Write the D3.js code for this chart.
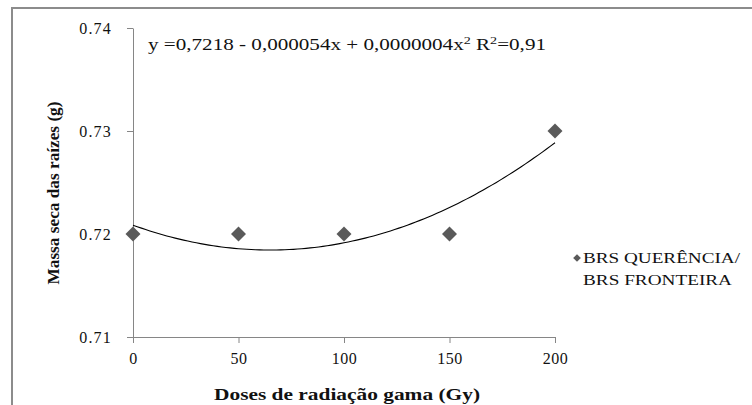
<!DOCTYPE html>
<html>
<head>
<meta charset="utf-8">
<script src="https://cdn.jsdelivr.net/npm/d3@7"></script>
<style>
  html, body { margin: 0; padding: 0; background: #fff; }
  svg { display: block; }
</style>
</head>
<body>
<svg id="chart" width="752" height="405" font-family="'Liberation Serif', 'Times New Roman', serif"></svg>
<script>
// ---- data ----
const doses = [0, 50, 100, 150, 200];
const massa = [0.72, 0.72, 0.72, 0.72, 0.73];
const xTicks = [0, 50, 100, 150, 200];
const yTicks = [0.71, 0.72, 0.73, 0.74];
const seriesName = ["BRS QUERÊNCIA/", "BRS FRONTEIRA"];
const equationText = "y =0,7218 - 0,000054x + 0,0000004x";
const r2Text = "R";
const r2Value = "=0,91";

const FONT = "'Liberation Serif', 'Times New Roman', serif";
const svg = d3.select("#chart");

// outer frame
svg.append("path")
  .attr("d", "M12,405 L12,8 L752,8")
  .attr("fill", "none").attr("stroke", "#8c8c8c").attr("stroke-width", 2);

const x = d3.scaleLinear().domain([0, 200]).range([133, 555]);
const y = d3.scaleLinear().domain([0.71, 0.74]).range([337, 28]);

const axisColor = "#868686";

// y axis
const yAxis = svg.append("g").attr("transform", `translate(${x(0)},0)`)
  .call(d3.axisLeft(y).tickValues(yTicks).tickSize(6).tickSizeOuter(0).tickFormat(d3.format(".2f")));
yAxis.attr("font-family", FONT).attr("font-size", 16);
yAxis.select(".domain").attr("stroke", axisColor);
yAxis.selectAll(".tick line").attr("stroke", axisColor);
yAxis.selectAll(".tick text")
  .attr("font-family", FONT).attr("font-size", 16).attr("fill", "#111").attr("x", -21).attr("dy", "0.32em")
  .attr("letter-spacing", "1.2px");

// x axis
const xAxis = svg.append("g").attr("transform", `translate(0,${y(0.71)})`)
  .call(d3.axisBottom(x).tickValues(xTicks).tickSize(6).tickSizeOuter(0));
xAxis.attr("font-family", FONT).attr("font-size", 16);
xAxis.select(".domain").attr("stroke", axisColor);
xAxis.selectAll(".tick line").attr("stroke", axisColor);
xAxis.selectAll(".tick text")
  .attr("font-family", FONT).attr("font-size", 16).attr("fill", "#111").attr("y", 22).attr("dy", "0.32em")
  .attr("letter-spacing", "0.5px");

// quadratic least squares trend from the data
function quadFit(xs, ys) {
  const n = xs.length;
  let S = [0,0,0,0,0], T = [0,0,0];
  for (let i = 0; i < n; i++) {
    for (let k = 0; k < 5; k++) S[k] += Math.pow(xs[i], k);
    for (let k = 0; k < 3; k++) T[k] += ys[i] * Math.pow(xs[i], k);
  }
  const M = [[S[0],S[1],S[2],T[0]],[S[1],S[2],S[3],T[1]],[S[2],S[3],S[4],T[2]]];
  for (let c = 0; c < 3; c++) {
    for (let r = c + 1; r < 3; r++) {
      const f = M[r][c] / M[c][c];
      for (let k = c; k < 4; k++) M[r][k] -= f * M[c][k];
    }
  }
  const b = [0,0,0];
  for (let r = 2; r >= 0; r--) {
    let s = M[r][3];
    for (let k = r + 1; k < 3; k++) s -= M[r][k] * b[k];
    b[r] = s / M[r][r];
  }
  return b;
}
const coef = quadFit(doses, massa);
const trendX = d3.range(0, 200.01, 2);
svg.append("path")
  .datum(trendX)
  .attr("fill", "none").attr("stroke", "#000").attr("stroke-width", 1.1)
  .attr("d", d3.line().x(d => x(d)).y(d => y(coef[0] + coef[1]*d + coef[2]*d*d)));

// markers
const diamond = d3.symbol().type(d3.symbolSquare).size(112);
svg.append("g").selectAll("path").data(doses.map((d, i) => [d, massa[i]]))
  .join("path")
  .attr("d", diamond)
  .attr("fill", "#5a5a5a")
  .attr("transform", d => `translate(${x(d[0])},${y(d[1])}) rotate(45)`);

// equation
const eq = svg.append("text").attr("x", 148).attr("y", 50)
  .attr("font-family", FONT)
  .attr("font-size", 16.5).attr("fill", "#111")
  .attr("textLength", 398).attr("lengthAdjust", "spacingAndGlyphs");
eq.append("tspan").text(equationText);
eq.append("tspan").attr("dy", -6).attr("font-size", 11).text("2");
eq.append("tspan").attr("dy", 6).text(" " + r2Text);
eq.append("tspan").attr("dy", -6).attr("font-size", 11).text("2");
eq.append("tspan").attr("dy", 6).text(r2Value);

// axis titles
svg.append("text")
  .attr("transform", "translate(59,193) rotate(-90)")
  .attr("font-family", FONT)
  .attr("text-anchor", "middle").attr("font-size", 16).attr("font-weight", "bold")
  .attr("fill", "#111")
  .attr("textLength", 183).attr("lengthAdjust", "spacingAndGlyphs")
  .text("Massa seca das raízes (g)");

svg.append("text")
  .attr("x", 347).attr("y", 400)
  .attr("font-family", FONT)
  .attr("text-anchor", "middle").attr("font-size", 17).attr("font-weight", "bold")
  .attr("fill", "#111")
  .attr("textLength", 266).attr("lengthAdjust", "spacingAndGlyphs")
  .text("Doses de radiação gama (Gy)");

// legend
svg.append("path")
  .attr("d", d3.symbol().type(d3.symbolSquare).size(30))
  .attr("fill", "#5a5a5a")
  .attr("transform", "translate(577,258) rotate(45)");
svg.append("text").attr("x", 583).attr("y", 263)
  .attr("font-family", FONT)
  .attr("font-size", 15).attr("fill", "#111")
  .attr("textLength", 157).attr("lengthAdjust", "spacingAndGlyphs")
  .text(seriesName[0]);
svg.append("text").attr("x", 583).attr("y", 285)
  .attr("font-family", FONT)
  .attr("font-size", 15).attr("fill", "#111")
  .attr("textLength", 149).attr("lengthAdjust", "spacingAndGlyphs")
  .text(seriesName[1]);
</script>
</body>
</html>
